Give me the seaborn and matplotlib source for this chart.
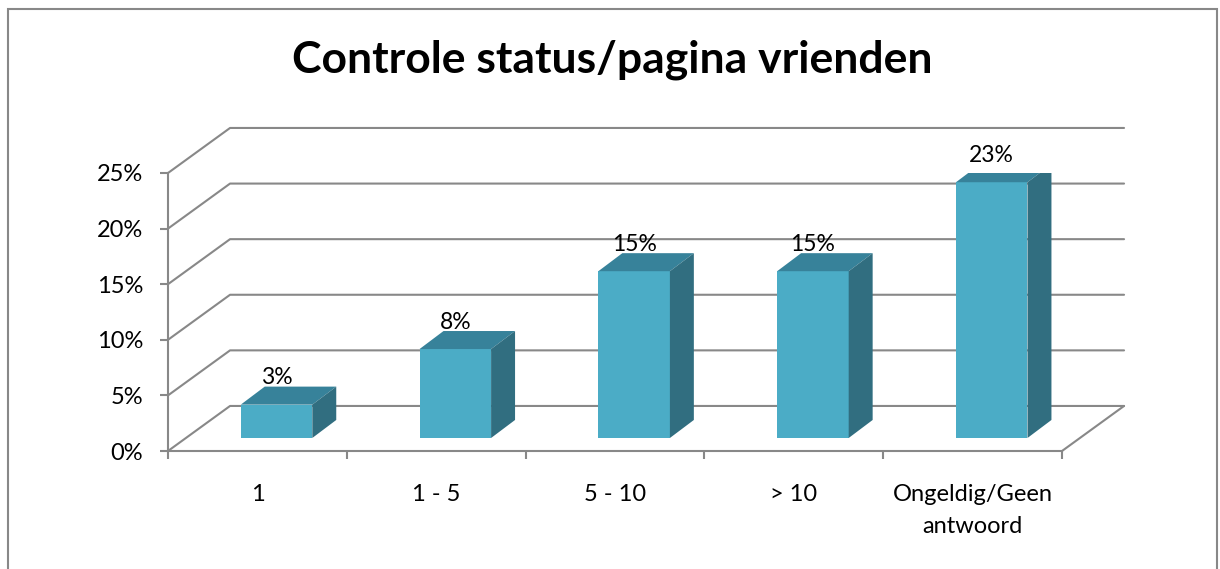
import numpy as np
import matplotlib
matplotlib.use("Agg")
import matplotlib.pyplot as plt
from matplotlib.patches import Polygon, Rectangle
import seaborn as sns

categories = ["1", "1 - 5", "5 - 10", "> 10", "Ongeldig/Geen\nantwoord"]
values = [3, 8, 15, 15, 23]
yticks = [0, 5, 10, 15, 20, 25]

sns.set_theme(style="white")
plt.rcParams["font.family"] = ["Lato", "DejaVu Sans"]
plt.rcParams["text.color"] = "black"
plt.rcParams["xtick.color"] = "black"
plt.rcParams["ytick.color"] = "black"

front_c = "#4bacc6"
top_c = "#37829a"
side_c = "#316e80"
grid_c = "#888888"

fig = plt.figure(figsize=(12.2, 5.69), dpi=100)
W, H = 1220, 569
ax = fig.add_axes([168 / W, (H - 451) / H, 894 / W, 278 / H])

# 3d look: depth of the floor and of the bars, in data units
DX, DY = 0.347, 4.05
SX, SY = 0.107, 1.17      # front face of bars sits inside the floor
BX, BY = 0.134, 1.62      # depth of a bar

sns.barplot(x=categories, y=values, width=0.4, color=front_c, saturation=1,
            ax=ax, zorder=3, linewidth=0)

for p in ax.patches:
    p.set_x(p.get_x() + SX)
    p.set_y(SY)
    x0, x1 = p.get_x(), p.get_x() + p.get_width()
    y0, y1 = SY, SY + p.get_height()
    ax.add_patch(Polygon([(x0, y1), (x1, y1), (x1 + BX, y1 + BY), (x0 + BX, y1 + BY)],
                         closed=True, fc=top_c, ec="none", zorder=3))
    ax.add_patch(Polygon([(x1, y0), (x1 + BX, y0 + BY), (x1 + BX, y1 + BY), (x1, y1)],
                         closed=True, fc=side_c, ec="none", zorder=3))
    ax.text((x0 + x1) / 2, y1 + 2.4, f"{p.get_height():.0f}%", ha="center",
            va="center", fontsize=16.5, color="black", zorder=4)

# walls and gridlines
n = len(categories)
for v in yticks:
    ax.plot([-0.5, -0.5 + DX, n - 0.5 + DX], [v, v + DY, v + DY], color=grid_c,
            lw=1.5, zorder=1, clip_on=False)
ax.plot([n - 0.5, n - 0.5 + DX], [0, DY], color=grid_c, lw=1.5, zorder=1, clip_on=False)

ax.set_xlim(-0.5, n - 0.5)
ax.set_ylim(0, 25)
ax.set_xlabel("")
ax.set_ylabel("")
for s in ["top", "right"]:
    ax.spines[s].set_visible(False)
for s in ["left", "bottom"]:
    ax.spines[s].set_color(grid_c)
    ax.spines[s].set_linewidth(1.5)

ax.set_yticks(yticks, [f"{v}%" for v in yticks])
ax.set_xticks(np.arange(-0.5, n, 1.0), [""] * (n + 1))
ax.tick_params(axis="y", direction="out", length=6, width=1.5, color=grid_c,
               labelsize=17, labelcolor="black", pad=12, left=True)
ax.tick_params(axis="x", which="major", direction="out", length=6, width=1.5,
               color=grid_c, bottom=True)

# category labels under the front edge
for i, c in enumerate(categories):
    ax.text(i, -2.95, c, ha="center", va="top", fontsize=17, linespacing=1.65,
            color="black", clip_on=False)

fig.text(0.502, 1 - 60 / H, "Controle status/pagina vrienden", ha="center",
         va="center", fontsize=32, fontweight="bold", color="black")

fig.add_artist(Rectangle((8 / W, -0.02), (1217 - 8) / W, 1.02 - 9 / H,
                         fill=False, ec=grid_c, lw=1.5, transform=fig.transFigure))

fig.savefig("out.png", dpi=100)
